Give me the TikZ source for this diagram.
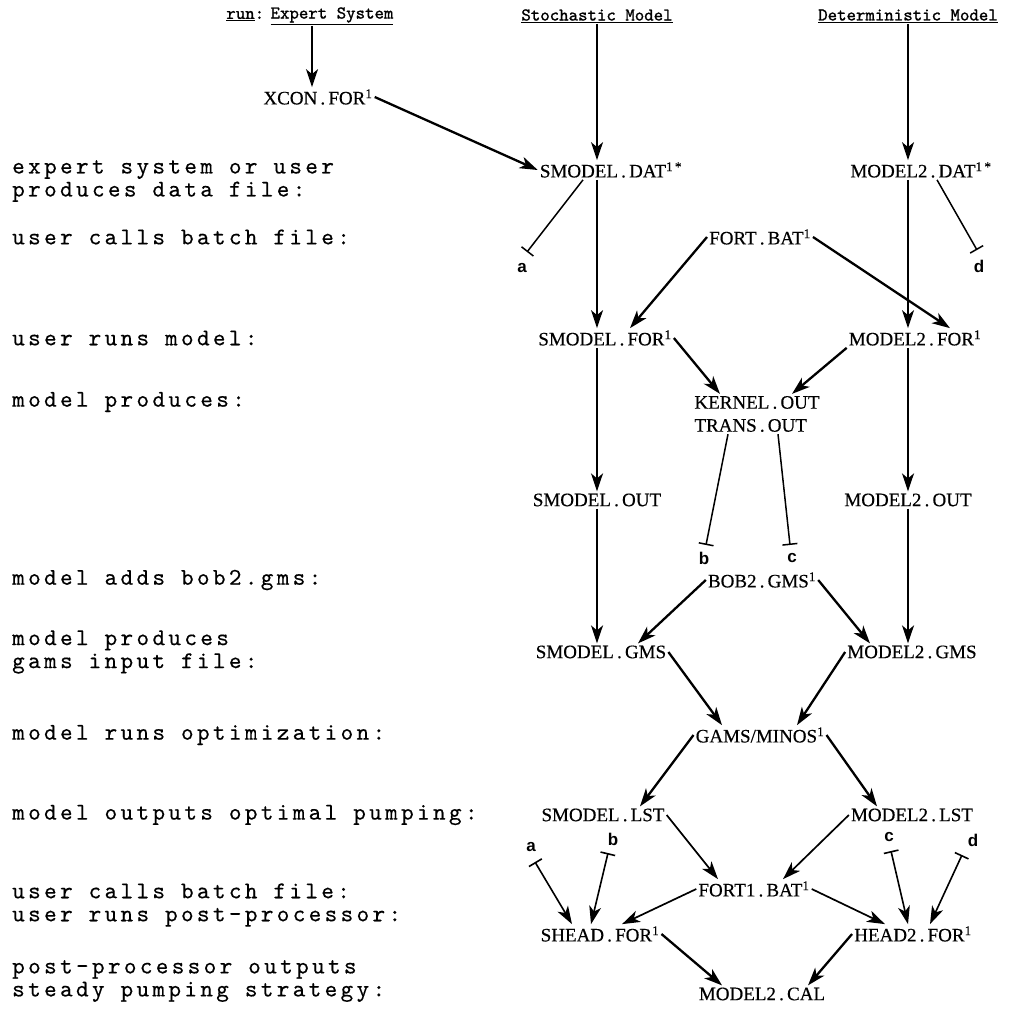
\documentclass[tikz,border=0pt]{standalone}
\usepackage{fontspec}
\setmainfont{Liberation Serif}
\newfontfamily\filefam[FakeBold=0.4]{Liberation Serif}
\newfontfamily\lblfam[LetterSpace=14,FakeBold=0.4]{lmmono10-regular.otf}
\newfontfamily\hdrfam[FakeBold=1.2]{lmmono10-regular.otf}
\newfontfamily\tfam{Liberation Sans}
\usetikzlibrary{arrows.meta,calc}
\begin{document}
\begin{tikzpicture}[x=1pt,y=-1pt,
  lbl/.style={font={\lblfam\fontsize{24}{23}\selectfont}, anchor=west, align=left, inner sep=0pt},
  hdr/.style={font={\hdrfam\fontsize{18}{20}\selectfont}, inner sep=1pt},
  file/.style={font={\filefam\fontsize{19}{23}\selectfont}, inner sep=2pt},
  tip/.tip={Stealth[length=18pt,width=12pt,inset=5pt]},
  arr/.style={line width=1.7pt, -tip},
  barr/.style={line width=2.3pt, -tip},
  tee/.style={line width=1.5pt, -{Bar[width=15pt]}},
  teearr/.style={line width=1.6pt, {Bar[width=15pt]}-tip},
  tlab/.style={font={\tfam\bfseries\fontsize{17}{18}\selectfont}, inner sep=0pt}]
\useasboundingbox (0,0) rectangle (1031,1012);
% left labels
\node[lbl] (l1) at (12,181) {expert system or user\\produces data file:};
\node[lbl] (l2) at (12,237) {user calls batch file:};
\node[lbl] (l3) at (12,338) {user runs model:};
\node[lbl] (l4) at (12,402) {model produces:};
\node[lbl] (l5) at (12,580) {model adds bob2.gms:};
\node[lbl] (l6) at (12,652) {model produces\\gams input file:};
\node[lbl] (l7) at (12,735) {model runs optimization:};
\node[lbl] (l8) at (12,815) {model outputs optimal pumping:};
\node[lbl] (l9) at (12,905) {user calls batch file:\\user runs post-processor:};
\node[lbl] (l10) at (12,981) {post-processor outputs\\steady pumping strategy:};
% headers
\node[hdr] (he) at (332,16) {\underline{Expert System}};
\node[hdr, anchor=east] (hr) at ([xshift=-4pt]he.west) {\underline{run}:};
\node[hdr] (hs) at (597,16) {\underline{Stochastic Model}};
\node[hdr] (hd) at (908,16) {\underline{Deterministic Model}};
\coordinate (ce) at (312,0);
% files
\node[file] (xcon) at (318,97) {XCON\,.\,FOR\textsuperscript{1}};
\node[file] (sdat) at (611,170) {SMODEL\,.\,DAT\textsuperscript{1\,*}};
\node[file] (mdat) at (921,170) {MODEL2\,.\,DAT\textsuperscript{1\,*}};
\node[file] (fbat) at (760,237) {FORT\,.\,BAT\textsuperscript{1}};
\node[file] (sfor) at (605,338) {SMODEL\,.\,FOR\textsuperscript{1}};
\node[file] (mfor) at (915,338) {MODEL2\,.\,FOR\textsuperscript{1}};
\node[file, align=left] (kern) at (757,414) {KERNEL\,.\,OUT\\TRANS\,.\,OUT};
\node[file] (sout) at (597,500) {SMODEL\,.\,OUT};
\node[file] (mout) at (908,500) {MODEL2\,.\,OUT};
\node[file] (bob) at (762,580) {BOB2\,.\,GMS\textsuperscript{1}};
\node[file] (sgms) at (601,652) {SMODEL\,.\,GMS};
\node[file] (mgms) at (912,652) {MODEL2\,.\,GMS};
\node[file] (gams) at (760,735) {GAMS/MINOS\textsuperscript{1}};
\node[file] (slst) at (603,815) {SMODEL\,.\,LST};
\node[file] (mlst) at (912,815) {MODEL2\,.\,LST};
\node[file] (fort1) at (754,889) {FORT1\,.\,BAT\textsuperscript{1}};
\node[file] (shead) at (600,934) {SHEAD\,.\,FOR\textsuperscript{1}};
\node[file] (head2) at (913,934) {HEAD2\,.\,FOR\textsuperscript{1}};
\node[file] (cal) at (762,994) {MODEL2\,.\,CAL};
% tee points and labels
\coordinate (ta) at (527,252);
\node[tlab] (la) at (522,268) {a};
\coordinate (td) at (977,250);
\node[tlab] (ld) at (979,266) {d};
\coordinate (tb) at (706,545);
\node[tlab] (lb) at (704,558) {b};
\coordinate (tc) at (790,545);
\node[tlab] (lc) at (792,558) {c};
\coordinate (ta2) at (535,862);
\node[tlab] (la2) at (531,847) {a};
\coordinate (tb2) at (608,853);
\node[tlab] (lb2) at (613,839) {b};
\coordinate (tc2) at (891,851);
\node[tlab] (lc2) at (889,837) {c};
\coordinate (td2) at (962,855);
\node[tlab] (ld2) at (973,840) {d};
% header arrows
\draw[arr] (he.south -| ce) -- (xcon.north -| ce);
\draw[arr] (hs.south) -- (hs.south |- sdat.north);
\draw[arr] (hd.south) -- (hd.south |- mdat.north);
% stochastic column
\draw[barr] (xcon.east) -- (sdat.west);
\draw[arr] (sdat.south -| hs.south) -- (sfor.north -| hs.south);
\draw[arr] (sfor.south -| hs.south) -- (sout.north -| hs.south);
\draw[arr] (sout.south -| hs.south) -- (sgms.north -| hs.south);
\draw[tee] ([xshift=-28pt]sdat.south) -- (ta);
% deterministic column
\draw[arr] (mdat.south -| hd.south) -- (mfor.north -| hd.south);
\draw[arr] (mfor.south -| hd.south) -- (mout.north -| hd.south);
\draw[arr] (mout.south -| hd.south) -- (mgms.north -| hd.south);
\draw[tee] ([xshift=16pt]mdat.south) -- (td);
% centre
\draw[barr] (fbat.west) -- ([xshift=25pt]sfor.north);
\draw[barr] (fbat.east) -- ([xshift=35pt]mfor.north);
\draw[barr] (sfor.east) -- ([xshift=-37pt]kern.north);
\draw[barr] (mfor.south west) -- ([xshift=35pt]kern.north);
\draw[tee] ([xshift=-29pt]kern.south) -- (tb);
\draw[tee] ([xshift=21pt]kern.south) -- (tc);
\draw[barr] (bob.west) -- ([xshift=37pt]sgms.north);
\draw[barr] (bob.east) -- ([xshift=-42pt]mgms.north);
\draw[barr] (sgms.east) -- ([xshift=-38pt]gams.north);
\draw[barr] (mgms.west) -- ([xshift=37pt]gams.north);
\draw[barr] (gams.west) -- ([xshift=37pt]slst.north);
\draw[barr] (gams.east) -- ([xshift=-35pt]mlst.north);
\draw[arr] (slst.east) -- ([xshift=-36pt]fort1.north);
\draw[arr] (mlst.west) -- ([xshift=29pt]fort1.north);
\draw[arr] (fort1.west) -- ([xshift=22pt]shead.north);
\draw[arr] (fort1.east) -- ([xshift=-28pt]head2.north);
\draw[barr] (shead.east) -- ([xshift=-40pt]cal.north);
\draw[barr] (head2.west) -- ([xshift=46pt]cal.north);
\draw[teearr] (ta2) -- ([xshift=-28pt]shead.north);
\draw[teearr] (tb2) -- ([xshift=-9pt]shead.north);
\draw[teearr] (tc2) -- ([xshift=-5pt]head2.north);
\draw[teearr] (td2) -- ([xshift=17pt]head2.north);
\end{tikzpicture}
\end{document}
